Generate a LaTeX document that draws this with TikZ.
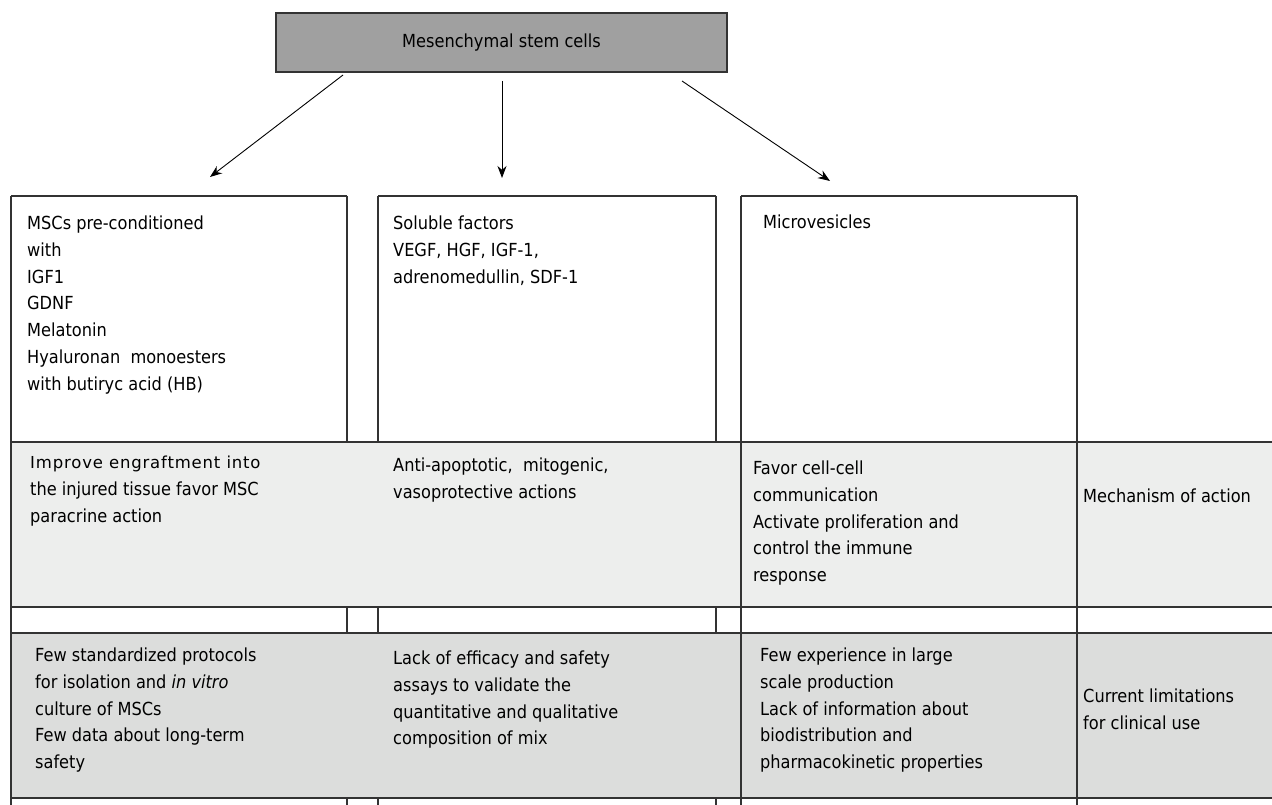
\documentclass[tikz,border=0pt]{standalone}
\usepackage{fontspec}
\setmainfont{DejaVu Sans Condensed}
\newfontfamily\verd[LetterSpace=5]{DejaVu Sans}
\usetikzlibrary{arrows.meta}
\definecolor{topgray}{HTML}{A0A0A0}
\definecolor{rowone}{HTML}{EDEEED}
\definecolor{rowtwo}{HTML}{DCDDDC}
\definecolor{linecol}{HTML}{333333}
\tikzset{
  txt/.style={anchor=north west, align=left, inner sep=0pt, font=\fontsize{18}{26.7}\selectfont},
  tline/.style={draw=linecol, line width=1.2pt},
  arr/.style={-{Stealth[length=12pt,width=9pt]}, line width=0.9pt},
}
\begin{document}
\begin{tikzpicture}[x=1pt,y=-1pt]
\useasboundingbox (0,0) rectangle (1272,805);
% row fills
\fill[rowone] (11,442) rectangle (1272,607);
\fill[rowtwo] (11,633) rectangle (1272,798);
% horizontal lines
\foreach \yy in {442,607,633,798} \draw[tline] (11,\yy) -- (1272,\yy);
% box tops
\draw[tline] (11,196) -- (347,196);
\draw[tline] (378,196) -- (716,196);
\draw[tline] (741,196) -- (1077,196);
% full-height verticals
\foreach \xx in {11,741,1077} \draw[tline] (\xx,196) -- (\xx,805);
% segmented verticals
\foreach \xx in {347,378,716} {
  \draw[tline] (\xx,196) -- (\xx,442);
  \draw[tline] (\xx,607) -- (\xx,633);
  \draw[tline] (\xx,798) -- (\xx,805);
}
% top node
\node[draw=linecol, line width=1.2pt, fill=topgray, minimum width=451pt, minimum height=59pt, inner sep=0pt, font=\fontsize{18}{26.7}\selectfont] (msc) at (501.5,42.5) {Mesenchymal stem cells};
% arrows
\coordinate (a1s) at (343,75);
\coordinate (a1e) at (210,177);
\coordinate (a2s) at (502,81);
\coordinate (a2e) at (502,178);
\coordinate (a3s) at (682,81);
\coordinate (a3e) at (830,181);
\draw[arr] (a1s) -- (a1e);
\draw[arr] (a2s) -- (a2e);
\draw[arr] (a3s) -- (a3e);
% column headers
\node[txt] (c1) at (27,216) {MSCs pre-conditioned\\with\\IGF1\\GDNF\\Melatonin\\Hyaluronan\ \ monoesters\\with butiryc acid (HB)};
\node[txt] (c2) at (393,216) {Soluble factors\\VEGF, HGF, IGF-1,\\adrenomedullin, SDF-1};
\node[txt] (c3) at (763,215) {Microvesicles};
% row 1
\node[txt] (r1a) at (30,456) {{\verd\fontsize{16.5}{26.7}\selectfont Improve engraftment into}\\the injured tissue favor MSC\\paracrine action};
\node[txt] (r1b) at (393,458) {Anti-apoptotic,\ \ mitogenic,\\vasoprotective actions};
\node[txt] (r1c) at (753,461) {Favor cell-cell\\communication\\Activate proliferation and\\control the immune\\response};
\node[txt] (r1d) at (1083,489) {Mechanism of action};
% row 2
\node[txt] (r2a) at (35,648) {Few standardized protocols\\for isolation and \textit{in vitro}\\culture of MSCs\\Few data about long-term\\safety};
\node[txt] (r2b) at (393,651) {Lack of efficacy and safety\\assays to validate the\\quantitative and qualitative\\composition of mix};
\node[txt] (r2c) at (760,648) {Few experience in large\\scale production\\Lack of information about\\biodistribution and\\pharmacokinetic properties};
\node[txt] (r2d) at (1083,689) {Current limitations\\for clinical use};
\end{tikzpicture}
\end{document}
